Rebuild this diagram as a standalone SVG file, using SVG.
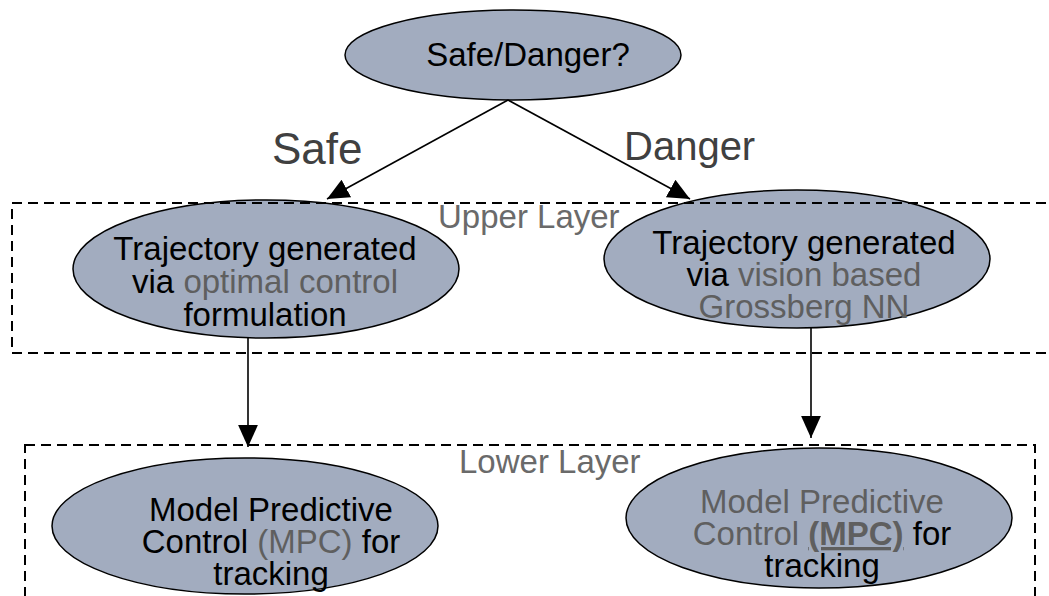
<svg xmlns="http://www.w3.org/2000/svg" width="1049" height="596" viewBox="0 0 1049 596">
<style>
.node{fill:#a2acbf;stroke:#000;stroke-width:1.5}
.t{font-family:"Liberation Sans",Arial,sans-serif;font-size:33px;text-anchor:middle;fill:#000}
.g{fill:#5f5f5f}
.lbl{font-family:"Liberation Sans",Arial,sans-serif;fill:#404040}
.layer{fill:none;stroke:#000;stroke-width:2;stroke-dasharray:10 6}
.ltxt{font-family:"Liberation Sans",Arial,sans-serif;font-size:33px;fill:#6a6a6a}
.edge{stroke:#000;stroke-width:1.6;fill:none}
</style>
<defs>
<marker id="ah" markerUnits="userSpaceOnUse" markerWidth="22" markerHeight="22" viewBox="0 0 20 20" refX="20" refY="10" orient="auto">
<path d="M0,1 L20,10 L0,19 Z" fill="#000"/>
</marker>
</defs>
<rect width="1049" height="596" fill="#fff"/>

<g id="decision">
<ellipse class="node" cx="513" cy="55" rx="168" ry="45"/>
<text class="t" x="528" y="66">Safe/Danger?</text>
</g>

<g id="upper-left">
<ellipse class="node" cx="266" cy="269" rx="193" ry="69"/>
<text class="t" x="265" y="260">Trajectory generated</text>
<text class="t" x="265" y="293">via <tspan class="g">optimal control</tspan></text>
<text class="t" x="265" y="326">formulation</text>
</g>

<g id="upper-right">
<ellipse class="node" cx="797" cy="259" rx="193" ry="69"/>
<text class="t" x="804" y="254">Trajectory generated</text>
<text class="t" x="804" y="286">via <tspan class="g">vision based</tspan></text>
<text class="t g" x="804" y="318">Grossberg NN</text>
</g>

<g id="lower-left">
<ellipse class="node" cx="245" cy="526" rx="193" ry="68"/>
<text class="t" x="271" y="521">Model Predictive</text>
<text class="t" x="271" y="553">Control <tspan class="g">(MPC)</tspan> for</text>
<text class="t" x="271" y="585">tracking</text>
</g>

<g id="lower-right">
<ellipse class="node" cx="819" cy="518" rx="193" ry="70"/>
<text class="t g" x="822" y="513">Model Predictive</text>
<text class="t" x="822" y="545"><tspan class="g">Control </tspan><tspan class="g" font-weight="bold" text-decoration="underline">(MPC)</tspan> for</text>
<text class="t" x="822" y="577">tracking</text>
</g>

<g id="upper-layer">
<rect class="layer" x="12" y="203" width="1050" height="150"/>
<text class="ltxt" x="438" y="228">Upper Layer</text>
</g>

<g id="lower-layer">
<rect class="layer" x="25" y="445" width="1010" height="170"/>
<text class="ltxt" x="459" y="473">Lower Layer</text>
</g>

<g id="connectors">
<line class="edge" x1="508" y1="100" x2="327" y2="199" marker-end="url(#ah)"/>
<line class="edge" x1="508" y1="100" x2="690" y2="199" marker-end="url(#ah)"/>
<line class="edge" x1="248" y1="338" x2="248" y2="447" marker-end="url(#ah)"/>
<line class="edge" x1="811" y1="328" x2="811" y2="438" marker-end="url(#ah)"/>
<text class="lbl" x="272" y="164" font-size="44">Safe</text>
<text class="lbl" x="624" y="160" font-size="40">Danger</text>
</g>
</svg>
